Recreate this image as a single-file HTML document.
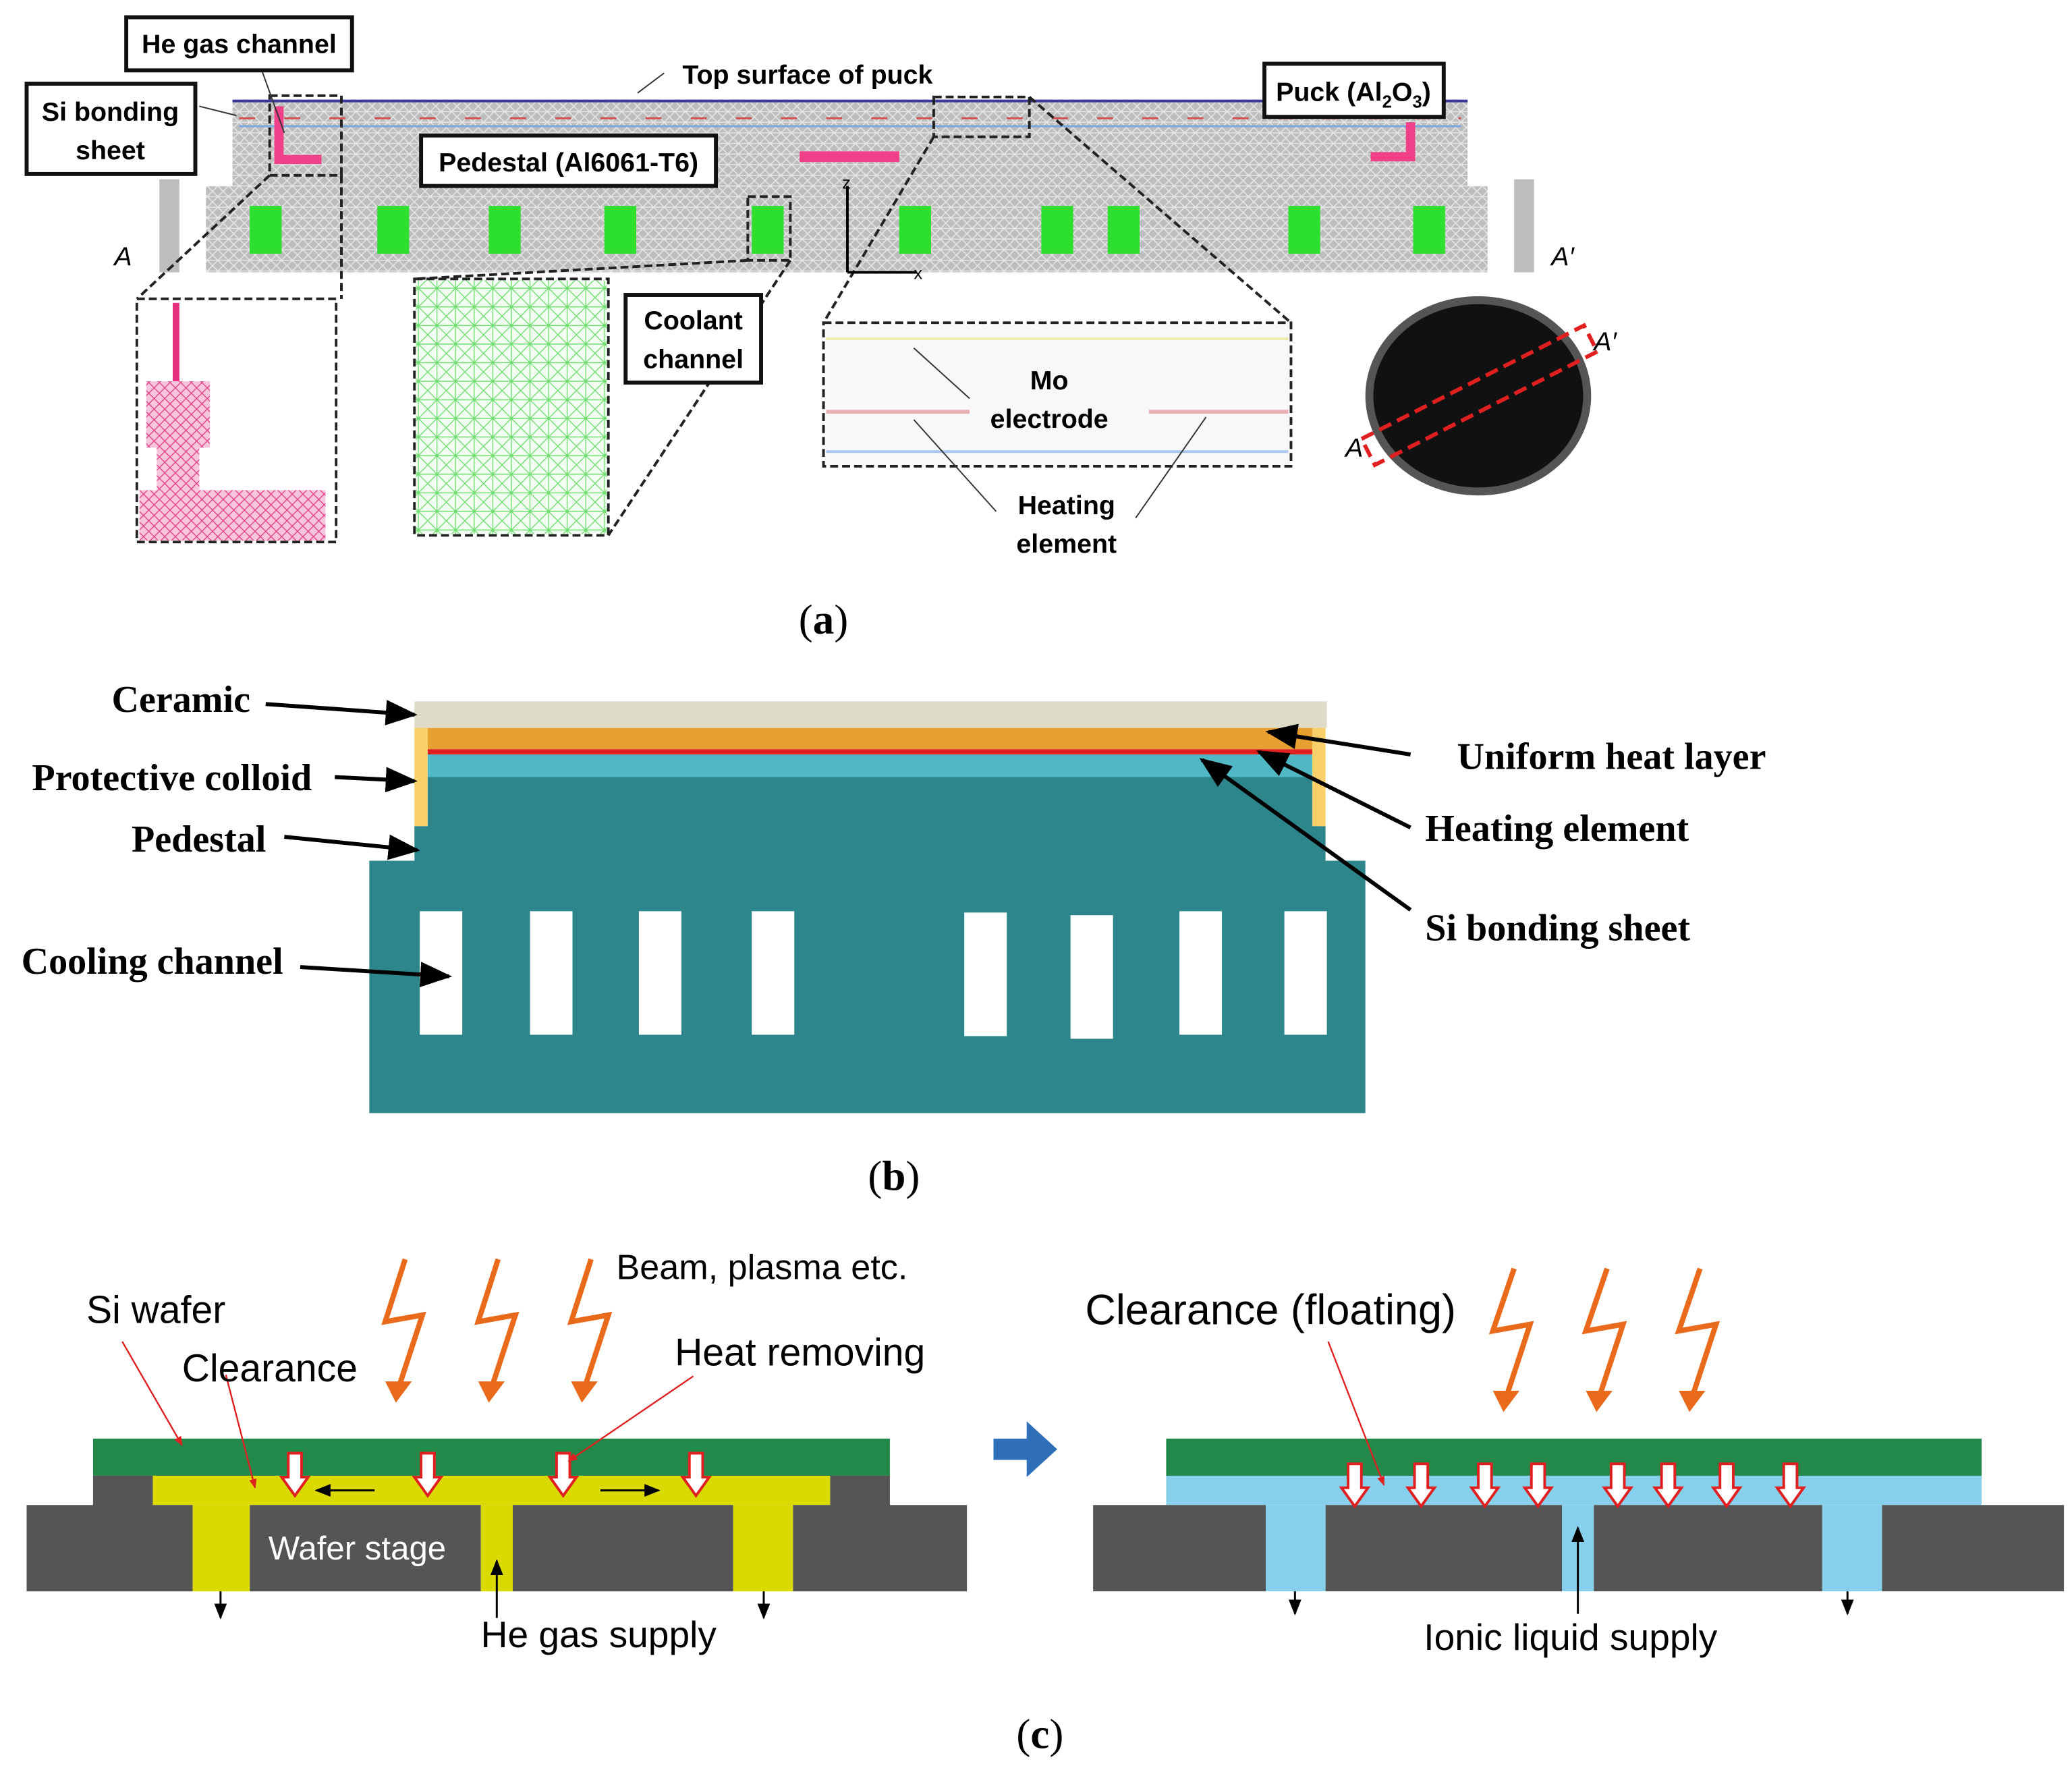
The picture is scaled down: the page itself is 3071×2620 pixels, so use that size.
<!DOCTYPE html>
<html><head><meta charset="utf-8"><style>html,body{margin:0;padding:0;background:#fff}svg{display:block}
.b{font-family:"Liberation Sans",sans-serif;font-weight:bold;font-size:20px}
.s{font-family:"Liberation Serif",serif;font-weight:bold;font-size:28.5px}
.n{font-family:"Liberation Sans",sans-serif;font-size:29px}
</style></head><body>
<svg width="3071" height="2620" viewBox="0 0 1560 1331" xmlns="http://www.w3.org/2000/svg">
<defs>
<pattern id="mesh" width="8" height="8" patternUnits="userSpaceOnUse"><rect width="8" height="8" fill="#bdbdbd"/><path d="M0 0L8 8M8 0L0 8M0 4H8" stroke="#e6e6e6" stroke-width="0.8"/></pattern>
<pattern id="gm" width="14" height="14" patternUnits="userSpaceOnUse"><rect width="14" height="14" fill="#f4fff4"/><path d="M0 0L14 14M14 0L0 14M7 0V14M0 7H14" stroke="#6fdc6f" stroke-width="0.7"/></pattern>
<pattern id="pm" width="8" height="8" patternUnits="userSpaceOnUse"><rect width="8" height="8" fill="#f7c6dc"/><path d="M0 0L8 8M8 0L0 8" stroke="#e0408a" stroke-width="0.7"/></pattern>
<marker id="ar" viewBox="0 0 10 10" refX="9" refY="5" markerWidth="8" markerHeight="8" orient="auto"><path d="M0 1L10 5L0 9z" fill="#000"/></marker>
<marker id="ra" viewBox="0 0 10 10" refX="9" refY="5" markerWidth="6" markerHeight="6" orient="auto"><path d="M0 1L10 5L0 9z" fill="#e02020"/></marker>
</defs>
<!-- (a) -->
<rect x="175" y="75" width="930" height="70" fill="url(#mesh)"/>
<rect x="155" y="140" width="965" height="65" fill="url(#mesh)"/>
<rect x="120" y="135" width="15" height="70" fill="#bdbdbd"/>
<rect x="1140" y="135" width="15" height="70" fill="#bdbdbd"/>
<line x1="175" y1="76" x2="1105" y2="76" stroke="#3a3a9a" stroke-width="2"/>
<line x1="180" y1="89" x2="1100" y2="89" stroke="#d05050" stroke-width="1.5" stroke-dasharray="12 22"/>
<line x1="180" y1="95" x2="1100" y2="95" stroke="#7aa8e0" stroke-width="1.5"/>
<path d="M210 80V120H242" stroke="#f0408a" stroke-width="7" fill="none"/>
<path d="M1062 92V118H1032" stroke="#f0408a" stroke-width="7" fill="none"/>
<rect x="602" y="114" width="75" height="8" fill="#f0408a"/>
<g fill="#2ee02e"><rect x="188" y="155" width="24" height="36"/><rect x="284" y="155" width="24" height="36"/><rect x="368" y="155" width="24" height="36"/><rect x="455" y="155" width="24" height="36"/><rect x="566" y="155" width="24" height="36"/><rect x="677" y="155" width="24" height="36"/><rect x="784" y="155" width="24" height="36"/><rect x="834" y="155" width="24" height="36"/><rect x="970" y="155" width="24" height="36"/><rect x="1064" y="155" width="24" height="36"/></g>
<g fill="none" stroke="#222" stroke-width="2" stroke-dasharray="6 3">
<rect x="203" y="72" width="54" height="60"/><rect x="563" y="148" width="32" height="48"/><rect x="703" y="73" width="72" height="30"/>
<rect x="103" y="225" width="150" height="183"/><rect x="312" y="210" width="146" height="193"/><rect x="620" y="243" width="352" height="108"/>
<path d="M203 132L103 225M257 132V225M563 196L312 210M595 196L458 403M703 103L620 243M775 73L972 243"/></g>
<rect x="104" y="226" width="148" height="181" fill="#fff"/>
<rect x="130" y="228" width="5" height="60" fill="#e83080"/>
<rect x="110" y="287" width="48" height="50" fill="url(#pm)"/><rect x="118" y="337" width="32" height="32" fill="url(#pm)"/><rect x="105" y="369" width="140" height="38" fill="url(#pm)"/>
<rect x="313" y="211" width="144" height="191" fill="url(#gm)"/>
<rect x="621" y="244" width="350" height="106" fill="#f8f8f8"/>
<line x1="622" y1="255" x2="970" y2="255" stroke="#eeeeaa" stroke-width="2"/>
<line x1="622" y1="310" x2="730" y2="310" stroke="#e8b0b0" stroke-width="3"/><line x1="865" y1="310" x2="970" y2="310" stroke="#e8b0b0" stroke-width="3"/>
<line x1="622" y1="340" x2="970" y2="340" stroke="#a8c8f0" stroke-width="2"/>
<text class="b" x="790" y="293" text-anchor="middle">Mo</text><text class="b" x="790" y="322" text-anchor="middle">electrode</text>
<g stroke="#333" stroke-width="1" fill="none"><path d="M730 300L688 262M750 385L688 316M855 390L908 314M178 87L150 80M214 100L196 50M480 70L500 55"/></g>
<text class="b" x="803" y="387" text-anchor="middle">Heating</text><text class="b" x="803" y="416" text-anchor="middle">element</text>
<g fill="#fff" stroke="#111" stroke-width="3">
<rect x="95" y="13" width="170" height="40"/><rect x="20" y="63" width="127" height="68"/><rect x="317" y="102" width="222" height="38"/><rect x="952" y="48" width="135" height="40"/><rect x="471" y="222" width="102" height="66"/></g>
<text class="b" x="180" y="40" text-anchor="middle">He gas channel</text>
<text class="b" x="83" y="91" text-anchor="middle">Si bonding</text><text class="b" x="83" y="120" text-anchor="middle">sheet</text>
<text class="b" x="428" y="129" text-anchor="middle">Pedestal (Al6061-T6)</text>
<text class="b" x="1019" y="76" text-anchor="middle">Puck (Al<tspan font-size="13" dy="5">2</tspan><tspan dy="-5">O</tspan><tspan font-size="13" dy="5">3</tspan><tspan dy="-5">)</tspan></text>
<text class="b" x="522" y="248" text-anchor="middle">Coolant</text><text class="b" x="522" y="277" text-anchor="middle">channel</text>
<text class="b" x="608" y="63" text-anchor="middle" font-size="22">Top surface of puck</text>
<path d="M638 205V140M638 205H690" stroke="#000" stroke-width="2" fill="none"/>
<text x="634" y="142" font-size="13" font-family="Liberation Sans">z</text><text x="688" y="210" font-size="13" font-family="Liberation Sans">x</text>
<text x="86" y="200" font-size="20" font-style="italic" font-family="Liberation Sans">A</text>
<text x="1168" y="200" font-size="20" font-style="italic" font-family="Liberation Sans">A′</text>
<ellipse cx="1113" cy="298" rx="82" ry="72" fill="#111" stroke="#555" stroke-width="6"/>
<g transform="rotate(-27 1113 298)"><rect x="1020" y="287" width="188" height="22" fill="none" stroke="#e02020" stroke-width="3" stroke-dasharray="10 5"/></g>
<text x="1200" y="264" font-size="20" font-style="italic" font-family="Liberation Sans">A′</text>
<text x="1013" y="344" font-size="20" font-style="italic" font-family="Liberation Sans">A</text>
<text x="620" y="477" font-family="Liberation Serif" font-size="32" text-anchor="middle">(<tspan font-weight="bold">a</tspan>)</text>
<!-- (b) -->
<rect x="312" y="528" width="687" height="20" fill="#dedbc7"/>
<rect x="312" y="548" width="10" height="74" fill="#f9d06a"/><rect x="988" y="548" width="10" height="74" fill="#f9d06a"/>
<rect x="322" y="548" width="666" height="16" fill="#e8a030"/>
<rect x="322" y="564" width="666" height="4" fill="#e02020"/>
<rect x="322" y="568" width="666" height="17" fill="#4fb8c4"/>
<path d="M322 585H988V622H998V648H1028V838H278V648H312V622H322z" fill="#2c868b"/>
<g fill="#fff"><rect x="316" y="686" width="32" height="93"/><rect x="399" y="686" width="32" height="93"/><rect x="481" y="686" width="32" height="93"/><rect x="566" y="686" width="32" height="93"/><rect x="726" y="687" width="32" height="93"/><rect x="806" y="689" width="32" height="93"/><rect x="888" y="686" width="32" height="93"/><rect x="967" y="686" width="32" height="93"/></g>
<g stroke="#000" stroke-width="3" fill="none" marker-end="url(#ar)">
<path d="M200 530L312 538"/><path d="M252 585L312 588"/><path d="M214 630L314 640"/><path d="M226 728L338 735"/>
<path d="M1062 568L955 551"/><path d="M1062 623L948 566"/><path d="M1062 685L905 572"/></g>
<g class="s"><text x="84" y="536">Ceramic</text><text x="24" y="595">Protective colloid</text><text x="99" y="641">Pedestal</text><text x="16" y="733">Cooling channel</text>
<text x="1097" y="579">Uniform heat layer</text><text x="1073" y="633">Heating element</text><text x="1073" y="708">Si bonding sheet</text></g>
<text x="673" y="896" font-family="Liberation Serif" font-size="32" text-anchor="middle">(<tspan font-weight="bold">b</tspan>)</text>
<!-- (c) left -->
<g fill="none" stroke="#e86a1a" stroke-width="4">
<path d="M305 948L290 995L318 990L300 1045"/><path d="M375 948L360 995L388 990L370 1045"/><path d="M445 948L430 995L458 990L440 1045"/>
<path d="M1140 955L1124 1002L1152 997L1134 1052"/><path d="M1210 955L1194 1002L1222 997L1204 1052"/><path d="M1280 955L1264 1002L1292 997L1274 1052"/></g>
<g fill="#e86a1a"><path d="M290 1040L310 1040L298 1056z"/><path d="M360 1040L380 1040L368 1056z"/><path d="M430 1040L450 1040L438 1056z"/><path d="M1124 1047L1144 1047L1132 1063z"/><path d="M1194 1047L1214 1047L1202 1063z"/><path d="M1264 1047L1284 1047L1272 1063z"/></g>
<rect x="70" y="1083" width="600" height="28" fill="#23894a"/>
<rect x="115" y="1111" width="510" height="22" fill="#dada00"/>
<path d="M20 1133H70V1111H115V1133H145V1198H20z" fill="#555"/>
<path d="M188 1133H362V1198H188z" fill="#555"/><path d="M386 1133H552V1198H386z" fill="#555"/>
<path d="M597 1133H625V1111H670V1133H728V1198H597z" fill="#555"/>
<rect x="145" y="1133" width="43" height="65" fill="#dada00"/><rect x="362" y="1133" width="24" height="65" fill="#dada00"/><rect x="552" y="1133" width="45" height="65" fill="#dada00"/>
<text x="202" y="1174" font-family="Liberation Sans" font-size="25" fill="#fff">Wafer stage</text>
<!-- (c) right -->
<rect x="878" y="1083" width="614" height="28" fill="#23894a"/>
<rect x="878" y="1111" width="614" height="22" fill="#87d0ec"/>
<rect x="823" y="1133" width="130" height="65" fill="#555"/><rect x="998" y="1133" width="178" height="65" fill="#555"/><rect x="1200" y="1133" width="172" height="65" fill="#555"/><rect x="1417" y="1133" width="137" height="65" fill="#555"/>
<rect x="953" y="1133" width="45" height="65" fill="#87d0ec"/><rect x="1176" y="1133" width="24" height="65" fill="#87d0ec"/><rect x="1372" y="1133" width="45" height="65" fill="#87d0ec"/>
<!-- white arrows -->
<g fill="#fff" stroke="#e02020" stroke-width="2">
<path id="wa" d="M-5 0H5V18H10L0 32L-10 18H-5z" transform="translate(222 1094)"/>
<use href="#wa" transform="translate(100 0)"/><use href="#wa" transform="translate(202 0)"/><use href="#wa" transform="translate(302 0)"/>
<use href="#wa" transform="translate(798 8)"/><use href="#wa" transform="translate(848 8)"/><use href="#wa" transform="translate(896 8)"/><use href="#wa" transform="translate(936 8)"/><use href="#wa" transform="translate(996 8)"/><use href="#wa" transform="translate(1034 8)"/><use href="#wa" transform="translate(1078 8)"/><use href="#wa" transform="translate(1126 8)"/></g>
<g stroke="#000" stroke-width="1.5" fill="none" marker-end="url(#ar)">
<path d="M282 1122H238"/><path d="M452 1122H496"/><path d="M166 1198V1218"/><path d="M575 1198V1218"/><path d="M374 1218V1175"/>
<path d="M975 1198V1215"/><path d="M1391 1198V1215"/><path d="M1188 1215V1150"/></g>
<g stroke="#e02020" stroke-width="1.2" fill="none" marker-end="url(#ra)">
<path d="M92 1010L137 1088"/><path d="M170 1035L192 1120"/><path d="M522 1036L428 1100"/><path d="M1000 1010L1042 1118"/></g>
<g class="n"><text x="65" y="996">Si wafer</text><text x="137" y="1040">Clearance</text><text x="464" y="963" font-size="26.5">Beam, plasma etc.</text><text x="508" y="1028">Heat removing</text><text x="362" y="1240" font-size="28">He gas supply</text>
<text x="817" y="997" font-size="32">Clearance (floating)</text><text x="1072" y="1242" font-size="28">Ionic liquid supply</text></g>
<path d="M748 1083H773V1070L796 1091L773 1112V1099H748z" fill="#2e6fb8"/>
<text x="783" y="1316" font-family="Liberation Serif" font-size="32" text-anchor="middle">(<tspan font-weight="bold">c</tspan>)</text>
</svg>
</body></html>
